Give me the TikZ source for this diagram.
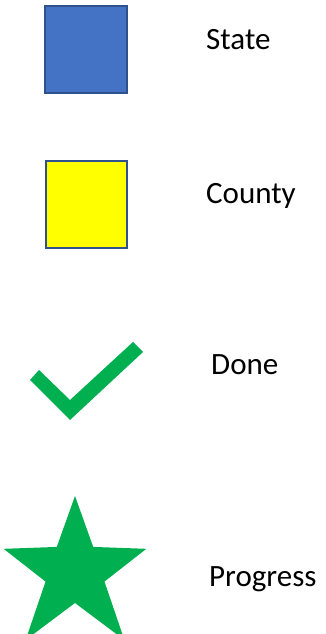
\documentclass[tikz,border=0pt]{standalone}
\usepackage{fontspec}
\setmainfont{Carlito}
\usetikzlibrary{positioning}
\usetikzlibrary{calc}
\definecolor{stateblue}{HTML}{4472C4}
\definecolor{edgeblue}{HTML}{2F528F}
\definecolor{countyyellow}{HTML}{FFFF00}
\definecolor{donegreen}{HTML}{00B050}

\begin{document}
\begin{tikzpicture}[x=1pt, y=1pt, box/.style={draw=edgeblue, line width=2pt, minimum width=82pt, minimum height=87pt, inner sep=0pt}, lbl/.style={anchor=base west, inner sep=0pt, font=\fontsize{31}{36}\selectfont}]
          \useasboundingbox (0,0) rectangle (325,634);

          \node[box, fill=stateblue] (state) at (86, 584.5) {};
          \node[lbl] (statelbl) at (206, 584) {State};

          \node[box, fill=countyyellow, minimum width=81pt] (county) at (86.5, 429.5) {};
          \node[lbl] (countylbl) at (206, 430) {County};

          \fill[donegreen] (30, 254) -- (39, 264) -- (70, 234) -- (133, 292) -- (143, 282) -- (70, 214) -- cycle;
          \node[lbl] (donelbl) at (211, 259) {Done};

          \coordinate (starc) at (75, 62);
          \fill[donegreen] ($(starc)+(90:76)$) -- ($(starc)+(126:31)$) -- ($(starc)+(162:75)$) -- ($(starc)+(198:31)$) -- ($(starc)+(234:84)$) -- ($(starc)+(270:31)$) -- ($(starc)+(306:84)$) -- ($(starc)+(342:31)$) -- ($(starc)+(18:75)$) -- ($(starc)+(54:31)$) -- cycle;
          \node[lbl] (progresslbl) at (209, 47) {Progress};
        \end{tikzpicture}
\end{document}
